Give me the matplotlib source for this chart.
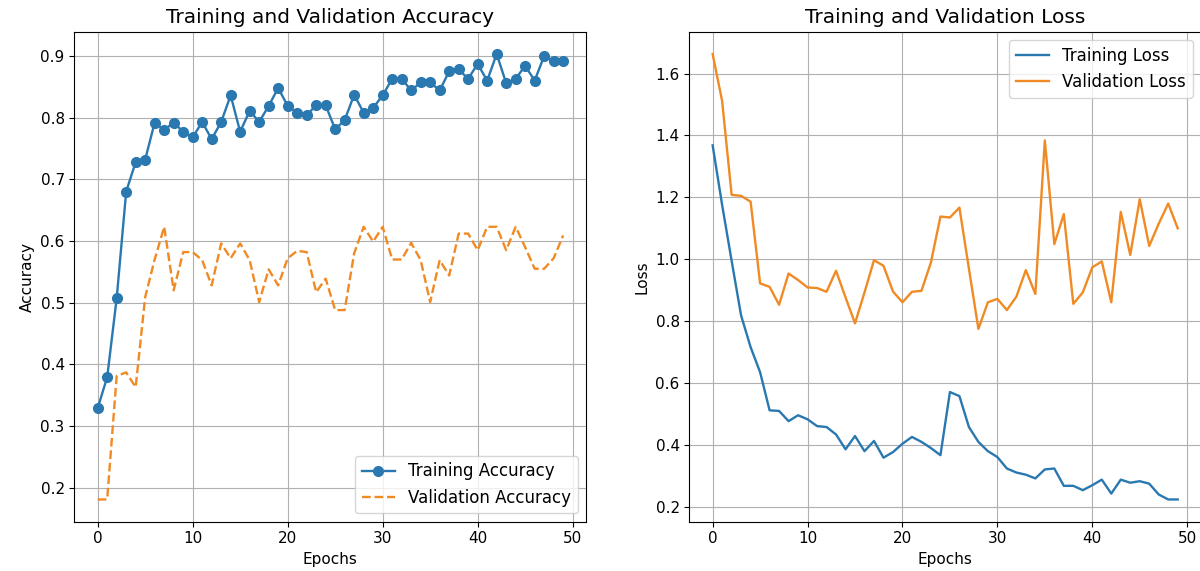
import matplotlib
matplotlib.use("Agg")
import matplotlib.pyplot as plt

# epochs 0..49
epochs = list(range(50))

train_acc = [0.329, 0.379, 0.507, 0.680, 0.728, 0.732, 0.792, 0.780, 0.792, 0.777,
             0.768, 0.793, 0.765, 0.793, 0.836, 0.777, 0.811, 0.793, 0.819, 0.848,
             0.819, 0.808, 0.804, 0.820, 0.820, 0.781, 0.796, 0.837, 0.808, 0.816,
             0.836, 0.863, 0.863, 0.844, 0.857, 0.857, 0.844, 0.875, 0.878, 0.863,
             0.887, 0.860, 0.903, 0.856, 0.863, 0.884, 0.860, 0.900, 0.891, 0.891]

val_acc = [0.181, 0.181, 0.381, 0.387, 0.363, 0.509, 0.570, 0.623, 0.520, 0.582,
           0.582, 0.569, 0.528, 0.596, 0.572, 0.596, 0.569, 0.501, 0.554, 0.528,
           0.572, 0.584, 0.582, 0.517, 0.539, 0.488, 0.488, 0.580, 0.623, 0.599,
           0.623, 0.570, 0.570, 0.597, 0.569, 0.501, 0.569, 0.544, 0.612, 0.612,
           0.585, 0.623, 0.623, 0.585, 0.623, 0.590, 0.555, 0.555, 0.572, 0.609]

train_loss = [1.368, 1.175, 0.995, 0.818, 0.716, 0.635, 0.512, 0.510, 0.477, 0.496,
              0.483, 0.461, 0.458, 0.434, 0.386, 0.429, 0.380, 0.413, 0.359, 0.377,
              0.404, 0.426, 0.410, 0.390, 0.367, 0.571, 0.558, 0.458, 0.410, 0.380,
              0.361, 0.324, 0.311, 0.304, 0.292, 0.321, 0.324, 0.268, 0.268, 0.254,
              0.270, 0.288, 0.243, 0.288, 0.278, 0.283, 0.275, 0.240, 0.224, 0.224]

val_loss = [1.663, 1.511, 1.208, 1.205, 1.186, 0.922, 0.911, 0.853, 0.954, 0.933,
            0.909, 0.907, 0.895, 0.963, 0.877, 0.793, 0.893, 0.997, 0.979, 0.896,
            0.861, 0.895, 0.898, 0.990, 1.138, 1.135, 1.167, 0.970, 0.775, 0.861,
            0.872, 0.836, 0.879, 0.965, 0.888, 1.384, 1.049, 1.146, 0.856, 0.893,
            0.974, 0.993, 0.861, 1.153, 1.014, 1.194, 1.043, 1.115, 1.180, 1.100]

fig = plt.figure(figsize=(12, 5.71), dpi=100)
ax1 = fig.add_axes([0.062, 0.0863, 0.4267, 0.858])
ax2 = fig.add_axes([0.5745, 0.0863, 0.4263, 0.858])

blue = '#2a78b0'
orange = '#f08a24'

# accuracy panel
ax1.plot(epochs, train_acc, 'o-', color=blue, linewidth=1.7, markersize=7, label='Training Accuracy')
ax1.plot(epochs, val_acc, '--', color=orange, linewidth=1.7, label='Validation Accuracy')
ax1.set_title('Training and Validation Accuracy', fontsize=14.5)
ax1.set_xlabel('Epochs', fontsize=11)
ax1.set_ylabel('Accuracy', fontsize=11)
ax1.set_xticks([0, 10, 20, 30, 40, 50])
ax1.set_yticks([0.2, 0.3, 0.4, 0.5, 0.6, 0.7, 0.8, 0.9])
ax1.tick_params(labelsize=11)
ax1.grid(True)
ax1.legend(loc='lower right', fontsize=12)

# loss panel
ax2.plot(epochs, train_loss, '-', color=blue, linewidth=1.7, label='Training Loss')
ax2.plot(epochs, val_loss, '-', color=orange, linewidth=1.7, label='Validation Loss')
ax2.set_title('Training and Validation Loss', fontsize=14.5)
ax2.set_xlabel('Epochs', fontsize=11)
ax2.set_ylabel('Loss', fontsize=11)
ax2.set_xticks([0, 10, 20, 30, 40, 50])
ax2.set_yticks([0.2, 0.4, 0.6, 0.8, 1.0, 1.2, 1.4, 1.6])
ax2.tick_params(labelsize=11)
ax2.grid(True)
ax2.legend(loc='upper right', fontsize=12)

fig.savefig('out.png', dpi=100)
